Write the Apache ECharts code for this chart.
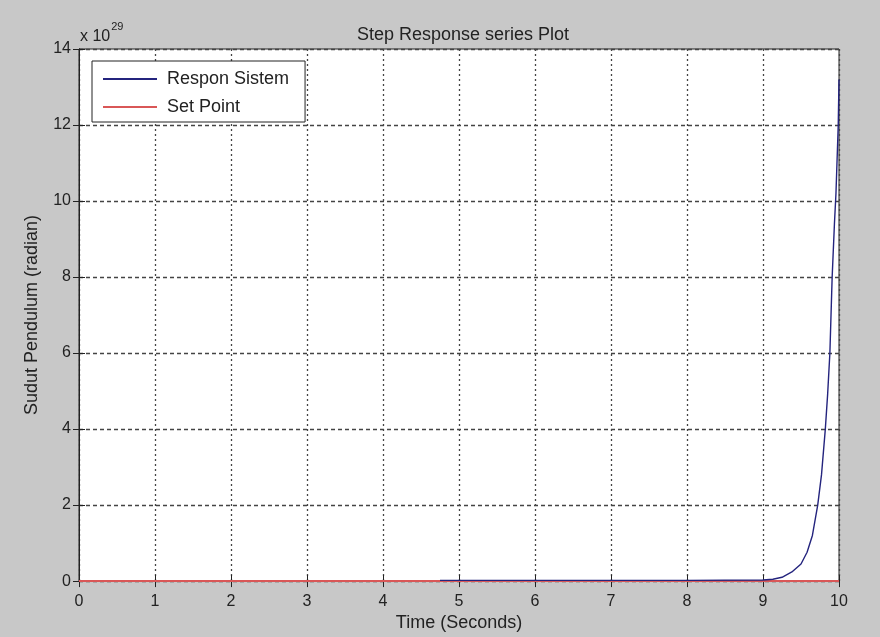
<!DOCTYPE html>
<html>
<head>
<meta charset="utf-8">
<script src="https://cdn.jsdelivr.net/npm/echarts@6/dist/echarts.min.js"></script>
<style>html,body{margin:0;padding:0;background:#c8c8c8;}#c{width:880px;height:637px;}</style>
</head>
<body>
<div id="c"></div>
<script>
// Data (values in units of 10^29 radian)
const responTime = [4.75, 5, 6, 7, 8, 9, 9.13, 9.25, 9.38, 9.5, 9.58, 9.65, 9.72, 9.77, 9.82, 9.85, 9.88, 9.91, 9.94, 9.96, 9.99, 10];
const responValue = [0.02, 0.02, 0.02, 0.02, 0.02, 0.03, 0.05, 0.1, 0.24, 0.45, 0.76, 1.2, 2.0, 2.8, 4.0, 4.9, 6.0, 8.0, 9.4, 10.2, 12.0, 13.2];
const setPointTime = [0, 10];
const setPointValue = [0, 0];
const xTicks = [0,1,2,3,4,5,6,7,8,9,10];
const yTicks = [0,2,4,6,8,10,12,14];
const seriesNames = ['Respon Sistem', 'Set Point'];

const chart = echarts.init(document.getElementById('c'));
const font = 'Liberation Sans, Arial, sans-serif';
const tickStyle = {inside: true, length: 6, lineStyle: {color: '#222'}};
const xMin = xTicks[0], xMax = xTicks[xTicks.length-1];
const yMin = yTicks[0], yMax = yTicks[yTicks.length-1];
chart.setOption({
  backgroundColor: '#c8c8c8',
  animation: false,
  title: {
    text: 'Step Response series Plot',
    left: 458, top: 21, textAlign: 'center',
    textStyle: {fontFamily: font, fontSize: 18, fontWeight: 'normal', color: '#222'}
  },
  grid: {left: 79, right: 41, top: 49, bottom: 55, show: true, backgroundColor: '#fff', borderColor: '#222', borderWidth: 1},
  legend: {
    data: seriesNames,
    orient: 'vertical', left: 92, top: 61,
    backgroundColor: '#fff', borderColor: '#222', borderWidth: 1,
    padding: [8, 16, 5, 11], itemGap: 8,
    itemWidth: 54, itemHeight: 2, icon: 'rect',
    textStyle: {fontFamily: font, fontSize: 18, color: '#222', lineHeight: 20, padding: [0, 0, 0, 5]}
  },
  xAxis: [{
    type: 'value', min: xMin, max: xMax, interval: 1,
    name: 'Time (Seconds)', nameLocation: 'middle', nameGap: 32,
    nameTextStyle: {fontFamily: font, fontSize: 18, color: '#222'},
    axisLine: {show: true, lineStyle: {color: '#222'}},
    axisTick: tickStyle,
    axisLabel: {fontFamily: font, fontSize: 16, color: '#222', margin: 12},
    splitLine: {show: true, lineStyle: {color: '#444', type: [2, 3], width: 1.3}}
  }, {
    type: 'value', position: 'top', min: xMin, max: xMax, interval: 1,
    axisLine: {show: true, lineStyle: {color: '#222'}},
    axisTick: tickStyle, axisLabel: {show: false}, splitLine: {show: false}
  }],
  yAxis: [{
    type: 'value', min: yMin, max: yMax, interval: 2,
    name: 'Sudut Pendulum (radian)', nameLocation: 'middle', nameGap: 38, nameRotate: 90,
    nameTextStyle: {fontFamily: font, fontSize: 18, color: '#222'},
    axisLine: {show: true, lineStyle: {color: '#222'}},
    axisTick: tickStyle,
    axisLabel: {fontFamily: font, fontSize: 16, color: '#222', margin: 8},
    splitLine: {show: true, lineStyle: {color: '#444', type: [4, 3], width: 1.3}}
  }, {
    type: 'value', position: 'right', min: yMin, max: yMax, interval: 2,
    axisLine: {show: true, lineStyle: {color: '#222'}},
    axisTick: tickStyle, axisLabel: {show: false}, splitLine: {show: false}
  }],
  graphic: [{
    type: 'text', left: 80, top: 21,
    style: {
      text: '{a|x 10}{b|29}',
      rich: {
        a: {fontFamily: font, fontSize: 16, fill: '#222', padding: [10, 0, 0, 0]},
        b: {fontFamily: font, fontSize: 11, fill: '#222', padding: [0, 0, 10, 1]}
      }
    }
  }],
  series: [
    {
      name: seriesNames[0], type: 'line', showSymbol: false, z: 3,
      data: responTime.map((t, i) => [t, responValue[i]]),
      lineStyle: {color: '#24247e', width: 1.4}, itemStyle: {color: '#24247e'}
    },
    {
      name: seriesNames[1], type: 'line', showSymbol: false, z: 2,
      data: setPointTime.map((t, i) => [t, setPointValue[i]]),
      lineStyle: {color: '#d95757', width: 2}, itemStyle: {color: '#d95757'}
    }
  ]
});
</script>
</body>
</html>
